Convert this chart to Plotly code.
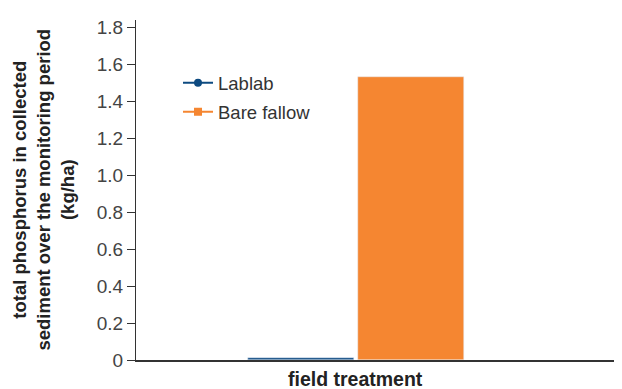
import plotly.graph_objects as go

treatments = ["Lablab", "Bare fallow"]
phosphorus = [0.012, 1.53]
colors = ["#0d4a80", "#f58631"]
markers = ["circle", "square"]
tick_vals = [0, 0.2, 0.4, 0.6, 0.8, 1.0, 1.2, 1.4, 1.6, 1.8]
tick_text = ["0", "0.2", "0.4", "0.6", "0.8", "1.0", "1.2", "1.4", "1.6", "1.8"]

FONT = "Liberation Sans, Arial, sans-serif"
fig = go.Figure()
for t, v, c in zip(treatments, phosphorus, colors):
    fig.add_trace(go.Bar(x=[t], y=[v], marker_color=c, width=0.972,
                         showlegend=False))
for t, c, m in zip(treatments, colors, markers):
    fig.add_trace(go.Scatter(x=[None], y=[None], mode="lines+markers", name=t,
                             legendgroup=t,
                             line=dict(color=c, width=2),
                             marker=dict(color=c, symbol=m, size=8)))

fig.update_layout(
    width=614, height=381,
    margin=dict(l=128, r=2, t=12, b=29),
    plot_bgcolor="white", paper_bgcolor="white",
    font=dict(family=FONT, color="#333333"),
    bargap=0, barmode="overlay",
    xaxis=dict(type="category", range=[-1.514, 2.917], showticklabels=False,
               showline=True, linecolor="#333333", linewidth=1.5,
               ticks="", showgrid=False, zeroline=False),
    yaxis=dict(range=[0, 1.84], tickvals=tick_vals, ticktext=tick_text,
               ticks="outside", ticklen=8, tickcolor="#333333", tickwidth=1,
               showline=True, linecolor="#333333", linewidth=1,
               showgrid=False, zeroline=False,
               tickfont=dict(size=19, color="#444444", family=FONT)),
    legend=dict(x=0.0868, y=0.87, xanchor="left", yanchor="top",
                font=dict(size=18.5, color="#333333"), bgcolor="rgba(0,0,0,0)",
                tracegroupgap=2),
    showlegend=True,
)
fig.add_annotation(text="total phosphorus in collected<br>sediment over the monitoring period<br>(kg/ha)",
                   xref="paper", yref="paper", x=-0.193, y=0.5, xanchor="center", yanchor="middle",
                   textangle=-90, showarrow=False,
                   font=dict(size=18.5, family=FONT, color="#222222", weight="bold"))
fig.add_annotation(text="field treatment", xref="paper", yref="paper",
                   x=0.4525, y=-0.057, xanchor="center", yanchor="middle",
                   showarrow=False,
                   font=dict(size=19.5, family=FONT, color="#222222", weight="bold"))
fig.write_html("out.html")
